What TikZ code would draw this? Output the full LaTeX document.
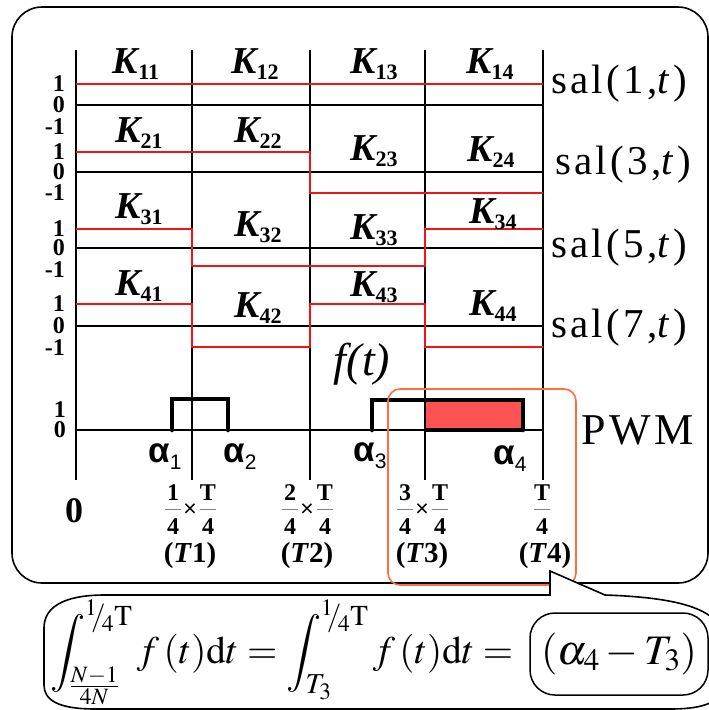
\documentclass[tikz,border=0pt]{standalone}
\usepackage{mathptmx}
\usepackage[no-math]{fontspec}
\setmainfont{Liberation Serif}
\setsansfont{Liberation Sans}
\newfontfamily\spfont[LetterSpace=8]{Liberation Serif}
\newcommand\Kl[1]{{\fontsize{38}{38}\selectfont\bfseries\itshape K}\raisebox{-6pt}{\fontsize{22}{22}\selectfont\bfseries #1}}
\newcommand\al[1]{{\sffamily\bfseries\fontsize{35}{35}\selectfont α}\raisebox{-7pt}{\sffamily\fontsize{21}{21}\selectfont #1}}
\newcommand\sal[1]{{\spfont\fontsize{41}{41}\selectfont sal(#1,\textit{t})}}
\newcommand\qT{{}^{1}\!\!/\!{}_{4}\mathrm{T}}
\definecolor{sigred}{RGB}{240,20,20}
\definecolor{pwmred}{RGB}{255,82,82}
\definecolor{orng}{RGB}{255,110,60}
\begin{document}
\begin{tikzpicture}[x=1pt,y=-1pt,
  grid/.style={line width=2.5pt,black},
  sig/.style={line width=2.4pt,sigred},
  pulse/.style={line width=4.5pt,black,line cap=round},
  lvl/.style={anchor=east,inner sep=0pt,font=\fontsize{24}{24}\selectfont\bfseries},
  tl/.style={inner sep=0pt,font=\fontsize{24}{24}\selectfont\bfseries},
  fbar/.style={line width=0.8pt,gray},
  klab/.style={inner sep=0pt},
  frame/.style={line width=1.6pt,black}]
\useasboundingbox (0,0) rectangle (709,710);
% main frame
\draw[frame,fill=white,rounded corners=30pt] (12,7) rectangle (708,583);
% red fill of PWM area
\fill[pwmred] (425,400) rectangle (523,430);
% columns
\foreach \i/\x in {0/76,1/192,2/310,3/425,4/543}{
  \coordinate (ct\i) at (\x,50);
  \coordinate (cb\i) at (\x,480);
  \draw[grid] (ct\i) -- (cb\i);
}
% zero lines
\foreach \j/\y in {1/105,2/172,3/248,4/326,5/430}{
  \coordinate (zl\j) at (76,\y);
  \coordinate (zr\j) at (543,\y);
  \draw[grid] (zl\j) -- (zr\j);
}
% signals
\draw[sig] (76,84) -- (543,84);
\draw[sig] (76,152) -- (310,152) -- (310,193) -- (543,193);
\draw[sig] (76,229) -- (192,229) -- (192,266) -- (425,266) -- (425,229) -- (543,229);
\draw[sig] (76,304) -- (192,304) -- (192,347) -- (310,347) -- (310,304) -- (425,304) -- (425,347) -- (543,347);
% PWM pulses
\draw[pulse] (172,430) -- (172,399) -- (228,399) -- (228,430);
\draw[pulse] (372,430) -- (372,400) -- (523,400) -- (523,430);
\draw[line width=4pt] (425,430) -- (523,430);
% K labels
\node[klab] (k11) at (136,64) {\Kl{11}};
\node[klab] (k12) at (255,64) {\Kl{12}};
\node[klab] (k13) at (374,64) {\Kl{13}};
\node[klab] (k14) at (490,64) {\Kl{14}};
\node[klab] (k21) at (139,133) {\Kl{21}};
\node[klab] (k22) at (258,133) {\Kl{22}};
\node[klab] (k23) at (374,151) {\Kl{23}};
\node[klab] (k24) at (491,152) {\Kl{24}};
\node[klab] (k31) at (139,209) {\Kl{31}};
\node[klab] (k32) at (258,227) {\Kl{32}};
\node[klab] (k33) at (374,230) {\Kl{33}};
\node[klab] (k34) at (493,214) {\Kl{34}};
\node[klab] (k41) at (139,286) {\Kl{41}};
\node[klab] (k42) at (258,308) {\Kl{42}};
\node[klab] (k43) at (374,287) {\Kl{43}};
\node[klab] (k44) at (493,306) {\Kl{44}};
% level labels
\foreach \r/\a/\b/\c in {1/84/105/127,2/152/172/193,3/229/248/270,4/304/326/348}{
  \node[lvl] (one\r) at (65,\a) {1};
  \node[lvl] (zero\r) at (65,\b) {0};
  \node[lvl] (mone\r) at (65,\c) {-1};
}
\node[lvl] (onep) at (66,410) {1};
\node[lvl] (zerop) at (66,430) {0};
% sal labels
\node[anchor=west,inner sep=0pt] (s1) at (551,84) {\sal{1}};
\node[anchor=west,inner sep=0pt] (s3) at (555,165) {\sal{3}};
\node[anchor=west,inner sep=0pt] (s5) at (551,248) {\sal{5}};
\node[anchor=west,inner sep=0pt] (s7) at (551,328) {\sal{7}};
\node[anchor=west,inner sep=0pt] (pwm) at (581,430) {\spfont\fontsize{44}{44}\selectfont PWM};
\node[inner sep=0pt] (ft) at (362,364) {\fontsize{46}{46}\selectfont\itshape f(t)};
% alpha labels
\node[inner sep=0pt] (a1) at (165,457) {\al{1}};
\node[inner sep=0pt] (a2) at (240,457) {\al{2}};
\node[inner sep=0pt] (a3) at (370,456) {\al{3}};
\node[inner sep=0pt] (a4) at (510,459) {\al{4}};
% bottom time labels
\node[inner sep=0pt,font=\fontsize{36}{36}\selectfont\bfseries] (t0) at (74,511) {0};
\foreach \i/\x in {1/190,2/307,3/422}{
  \node[tl] (n\i) at (\x-17,493) {\i};
  \node[tl] (d\i) at (\x-17,527) {4};
  \draw[fbar] (\x-25,509) -- (\x-9,509);
  \node[inner sep=0pt,font=\sffamily\fontsize{23}{23}\selectfont] (m\i) at (\x,510) {×};
  \node[tl] (tn\i) at (\x+18,493) {T};
  \node[tl] (td\i) at (\x+18,527) {4};
  \draw[fbar] (\x+10,509) -- (\x+26,509);
  \node[inner sep=0pt,font=\fontsize{29}{29}\selectfont\bfseries] (p\i) at (\x,556) {(\textit{T}\i)};
}
\node[tl] (tn4) at (542,493) {T};
\node[tl] (td4) at (542,527) {4};
\draw[fbar] (534,509) -- (550,509);
\node[inner sep=0pt,font=\fontsize{29}{29}\selectfont\bfseries] (p4) at (545,556) {(\textit{T}4)};
% orange highlight
\draw[orng,line width=1.6pt,rounded corners=12pt] (388,389) rectangle (576,585);
% callout
\coordinate (tip) at (550,571);
\draw[frame,fill=white] (tip) -- (605,595)
  .. controls (690,598) and (724,612) .. (726,645) -- (726,680)
  .. controls (724,702) and (705,709) .. (670,709) -- (95,709)
  .. controls (58,709) and (44,700) .. (44,685) -- (44,628)
  .. controls (44,608) and (62,595) .. (105,595) -- (550,595) -- cycle;
% formula
\node[anchor=west,inner sep=0pt] (eq) at (50,652) {\fontsize{39}{43}\selectfont$\displaystyle\int_{\frac{N-1}{4N}}^{\qT} f\,(t)\mathrm{d}t=\int_{T_3}^{\qT} f\,(t)\mathrm{d}t=$};
\node[draw,line width=1.5pt,rounded corners=25pt,minimum width=178pt,minimum height=82pt,inner sep=0pt] (res) at (619,654) {\fontsize{42}{46}\selectfont$(\alpha_4-T_3)$};
\end{tikzpicture}
\end{document}
